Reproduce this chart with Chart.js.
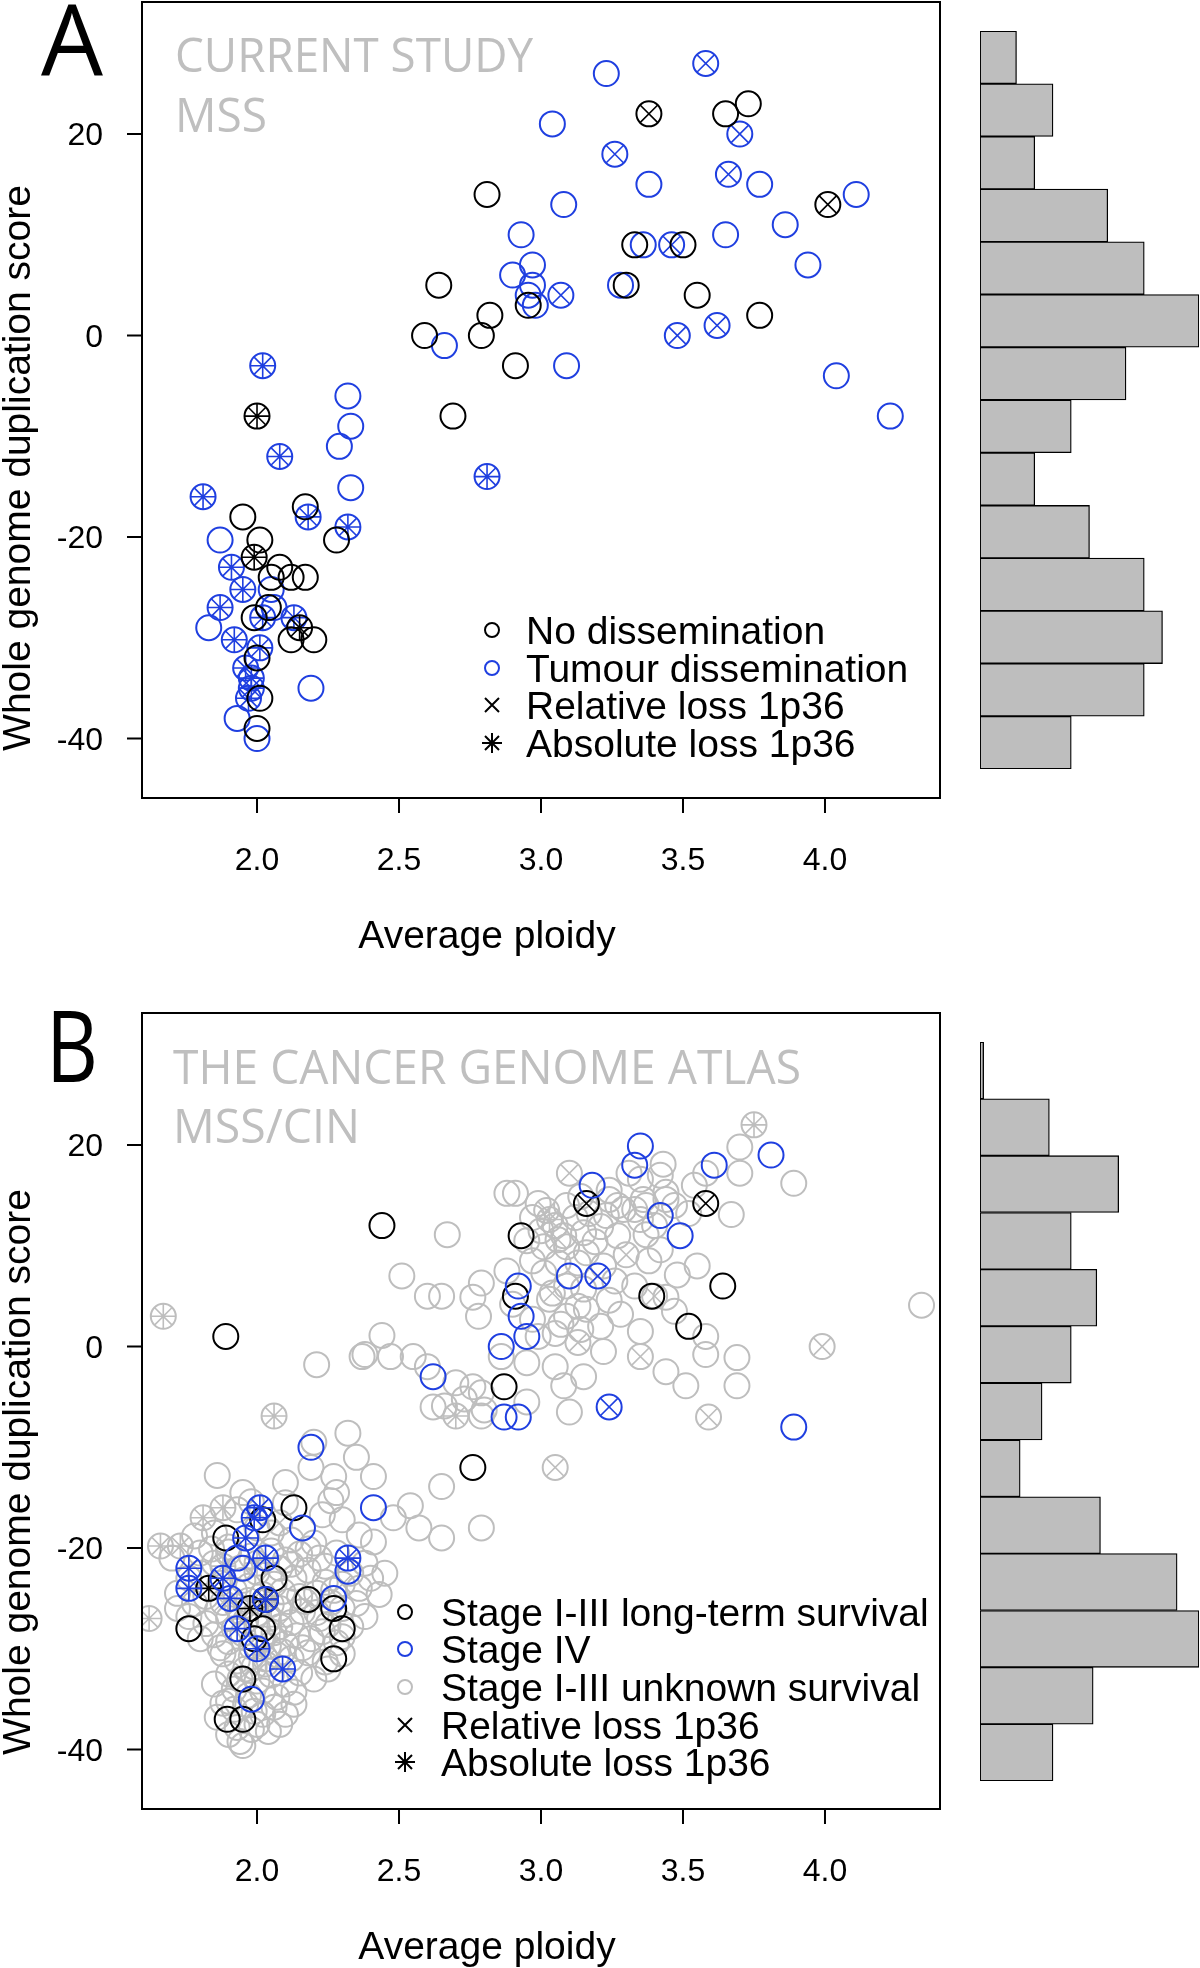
<!DOCTYPE html>
<html>
<head>
<meta charset="utf-8">
<script src="https://cdn.jsdelivr.net/npm/chart.js@4.4.1/dist/chart.umd.min.js"></script>
<style>
body{margin:0;background:#fff;}
#page{position:relative;width:1200px;height:1968px;overflow:hidden;background:#fff;}
canvas{position:absolute;}
</style>
</head>
<body>
<div id="page">
<canvas id="scatterA" width="960" height="1024" style="left:0;top:-40px"></canvas>
<canvas id="histA" width="240" height="984" style="left:960px;top:0"></canvas>
<canvas id="scatterB" width="960" height="984" style="left:0;top:984px"></canvas>
<canvas id="histB" width="240" height="984" style="left:960px;top:984px"></canvas>
</div>
<script>
// each point: [average ploidy, WGD score, 1p36 loss (0 none, 1 relative, 2 absolute)]
var studyNoDissemination = [
  [2.81,14,0],[2.955,3,0],[2.64,5,0],[2.82,2,0],[2.59,0,0],[2.79,0,0],[2.91,-3,0],[2.00,-8,2],
  [2.69,-8,0],[3.38,22,1],[3.65,22,0],[3.73,23,0],[4.01,13,1],[3.33,9,0],[3.50,9,0],[3.30,5,0],
  [3.55,4,0],[3.77,2,0],[2.17,-17,0],[2.28,-20.3,0],[1.95,-18,0],[2.01,-20.3,0],[1.99,-22,2],
  [2.08,-23,0],[2.05,-24,0],[2.12,-24,0],[2.17,-24,0],[2.04,-27,0],[1.99,-28,0],[2.15,-29,2],
  [2.12,-30.2,0],[2.20,-30.2,0],[2.00,-32,0],[2.00,-39,0],[2.01,-36,0]
];
var studyDissemination = [
  [3.04,21,0],[2.93,10,0],[2.97,7,0],[2.90,6,0],[2.97,5,0],[2.955,4,0],[2.98,3,0],[2.66,-1,0],
  [2.02,-3,2],[2.32,-6,0],[2.33,-9,0],[3.23,26,0],[3.58,27,1],[3.70,20,1],[3.26,18,1],[3.38,15,0],
  [3.66,16,1],[3.77,15,0],[4.11,14,0],[3.08,13,0],[3.86,11,0],[3.65,10,0],[3.94,7,0],[3.36,9,0],
  [3.46,9,1],[3.07,4,1],[3.28,5,0],[3.48,0,1],[3.62,1,1],[3.09,-3,0],[4.04,-4,0],[4.23,-8,0],
  [2.81,-14,2],[2.29,-11,0],[2.08,-12,2],[2.33,-15.1,0],[1.81,-16,2],[2.18,-18,2],[2.32,-19,2],
  [1.87,-20.3,0],[1.91,-23,2],[1.95,-25.2,2],[2.05,-25.2,0],[1.87,-27,2],[2.02,-28,2],[2.13,-28,2],
  [1.83,-29,0],[1.92,-30.2,2],[2.01,-31,2],[1.96,-33,2],[1.98,-34,2],[1.98,-35,2],[2.19,-35,0],
  [1.93,-38,0],[2.00,-40,0],[1.97,-36,2],[2.06,-27,0]
];
var tcgaLongTerm = [
  [1.89,1,0],[2.44,12,0],[2.93,11,0],[2.91,5,0],[2.87,-4,0],[3.16,14.2,1],[3.58,14.2,1],[3.39,5,0],
  [3.64,6,0],[3.52,2,0],[2.76,-12,0],[2.13,-16,0],[2.02,-17.2,0],[1.89,-19,0],[2.06,-23,0],
  [1.83,-24,2],[2.03,-25.1,2],[1.975,-26,2],[2.18,-25.1,0],[2.27,-26,0],[2.30,-28,0],[1.76,-28,0],
  [2.02,-28,0],[1.99,-29,0],[2.27,-31,0],[1.95,-33,0],[1.895,-37,0],[1.95,-37,0]
];
var tcgaStageIV = [
  [2.92,6,0],[2.93,3,0],[2.95,1,0],[2.86,0,0],[2.62,-3,0],[2.87,-7,0],[2.92,-7,0],[3.35,19.9,0],
  [3.81,19,0],[3.33,18,0],[3.61,18,0],[3.18,16,0],[3.42,13,0],[3.49,11,0],[3.10,7,0],[3.20,7,1],
  [3.24,-6,1],[3.89,-8,0],[2.19,-10,0],[2.41,-16,0],[2.16,-18,0],[2.01,-16,2],[1.99,-17,2],
  [1.96,-19,2],[2.03,-21,2],[1.93,-21,0],[1.95,-22,0],[1.76,-22,2],[1.76,-24,2],[1.88,-23,2],
  [2.32,-21,2],[2.32,-22.3,0],[1.905,-25,2],[2.03,-25.1,2],[2.27,-25,0],[1.93,-28,2],[2.00,-30,2],
  [2.09,-32,2],[1.98,-35,0]
];
var tcgaUnknown = [
  [3.75,22,2],
  [3.70,19.8,0],[3.43,18.1,0],[3.31,17.2,0],[3.42,17.0,0],[3.58,17.2,0],[3.70,17.2,0],[3.89,16.2,0],
  [3.10,17.2,1],[3.54,16.0,0],[3.35,16.6,0],[2.88,15.2,0],[2.91,15.2,0],[3.44,15.3,0],[3.24,15.5,0],
  [2.67,11.1,0],[3.67,13.1,0],[3.37,11.1,0],[3.27,14.0,0],[3.33,13.6,0],[3.37,14.0,0],[3.44,14.6,0],
  [3.36,14.6,0],[3.24,14.6,0],[3.29,13.6,0],[3.21,11.9,0],[3.23,13.0,0],[3.35,12.6,0],[3.14,14.9,0],
  [3.03,12.6,2],[2.99,14.2,0],[3.02,13.5,1],[3.05,12.0,0],[3.08,11.0,0],[3.00,11.5,0],[3.12,12.8,0],
  [3.09,14.0,0],[3.17,13.2,0],[3.15,11.3,0],[3.06,10.6,1],[2.97,12.8,0],[3.27,11.0,0],[3.40,12.0,0],
  [3.47,14.0,0],[3.52,13.2,0],[2.95,10.5,0],[3.19,10.4,0],
  [3.30,9.1,1],[3.48,7.1,0],[3.01,9.9,0],[3.09,9.9,0],[3.16,9.3,0],[3.06,8.3,0],[3.13,8.3,0],
  [3.01,7.3,0],[3.09,6.0,0],[3.15,5.7,0],[2.51,7.0,0],[2.79,6.3,0],[2.97,8.5,0],[3.22,8.0,0],
  [3.38,8.5,0],[3.26,6.5,0],[3.42,9.6,0],[2.88,7.5,0],[3.55,8.0,0],[3.04,5.3,1],[3.33,6.0,0],
  [2.60,5.0,0],[2.65,5.0,0],[2.76,4.9,0],[2.78,3.0,0],[2.44,1.1,0],[3.40,5.0,1],[3.44,4.9,0],
  [3.58,1.0,0],[3.13,0.4,1],[3.14,1.7,0],[3.21,2.0,0],[3.07,2.2,0],[3.03,4.7,0],[3.13,4.0,0],
  [3.16,3.7,0],[3.05,1.3,0],[3.09,3.0,0],[2.97,2.7,0],[4.34,4.1,0],[1.67,3.0,2],[3.28,3.2,0],
  [3.35,1.5,0],[2.90,4.2,0],[3.24,4.6,0],[2.99,1.0,0],[3.47,3.5,0],
  [3.99,0.0,1],[3.35,-1.0,1],[3.58,-0.8,0],[3.69,-1.1,0],[2.37,-1.0,0],[2.38,-0.8,0],[2.47,-1.0,0],
  [2.55,-1.0,0],[2.21,-1.8,0],[2.86,-1.0,0],[2.76,-4.0,0],[2.79,-4.6,0],[3.08,-3.9,0],[3.51,-3.9,0],
  [3.69,-3.9,0],[2.70,-3.6,0],[3.22,-0.5,0],[3.05,-2.0,0],[3.44,-2.5,0],[2.95,-1.6,0],[3.15,-3.0,0],
  [2.60,-2.0,0],
  [2.73,-5.2,0],[2.66,-5.9,0],[2.70,-6.9,2],[2.79,-6.9,0],[2.06,-6.9,2],[2.32,-8.6,0],[3.59,-7.0,1],
  [2.62,-6.0,0],[2.80,-6.3,0],[2.20,-9.5,0],[2.95,-5.5,0],[3.10,-6.5,0],
  [2.19,-12.0,0],[2.27,-12.9,0],[2.41,-12.9,0],[1.86,-12.8,0],[3.05,-12.0,1],[2.65,-13.9,0],
  [2.10,-13.5,0],[2.28,-14.5,0],[2.35,-11.0,0],[1.95,-14.5,0],
  [2.54,-15.8,0],[2.57,-18.0,0],[2.79,-18.0,0],[2.23,-16.7,0],[2.36,-18.7,0],[1.81,-17.0,2],
  [1.88,-16.0,2],[1.66,-19.8,2],[1.73,-19.8,2],[2.48,-17.0,0],[2.10,-15.5,0],[1.93,-16.2,0],
  [2.05,-18.5,0],[2.20,-19.5,0],[2.30,-17.2,0],[1.85,-18.5,0],[2.08,-17.5,1],[1.98,-15.4,0],
  [2.26,-15.3,0],[2.41,-19.4,0],[1.90,-19.9,0],[2.12,-19.2,0],[2.00,-18.0,0],[1.78,-18.8,0],
  [2.65,-19.0,0],
  [1.70,-21.0,0],[1.80,-20.5,0],[1.85,-21.5,0],[1.90,-20.4,0],[1.98,-20.8,0],[2.05,-20.3,0],
  [2.10,-21.2,0],[2.15,-20.6,0],[2.22,-21.0,0],[2.28,-20.5,0],[2.38,-21.5,0],[2.45,-22.5,0],
  [1.80,-22.5,0],[1.87,-23.5,0],[1.95,-23.2,0],[2.00,-22.4,0],[2.08,-22.0,0],[2.13,-23.0,0],
  [2.18,-22.2,0],[2.24,-23.4,0],[2.30,-23.6,1],[2.36,-24.0,0],[1.72,-24.5,0],[1.82,-24.8,0],
  [1.92,-24.2,0],[1.97,-23.8,0],[2.02,-24.6,0],[2.09,-24.3,0],[2.15,-24.8,0],[2.21,-24.5,0],
  [2.27,-24.2,0],[2.40,-23.0,0],[1.88,-21.8,2],[2.12,-21.6,1],[2.33,-22.5,0],[2.06,-23.6,0],
  [1.76,-23.0,0],[2.18,-20.1,0],[1.94,-22.0,0],[2.24,-21.8,0],[2.00,-21.5,2],[2.43,-24.6,0],
  [1.84,-20.1,0],
  [1.62,-27.0,2],[1.72,-26.0,0],[1.78,-25.5,0],[1.82,-27.5,0],[1.86,-26.2,0],[1.90,-27.0,0],
  [1.93,-25.8,0],[1.96,-27.2,0],[2.00,-26.5,0],[2.04,-27.0,0],[2.08,-26.0,0],[2.12,-27.4,0],
  [2.16,-26.3,0],[2.21,-26.4,0],[2.25,-27.6,0],[2.30,-26.0,0],[2.35,-25.5,0],[1.85,-28.6,0],
  [1.90,-29.3,0],[1.95,-28.5,0],[1.98,-29.8,0],[2.02,-29.0,0],[2.06,-28.4,0],[2.10,-29.5,0],
  [2.14,-28.7,0],[2.19,-29.0,0],[2.23,-28.3,0],[2.28,-29.4,0],[2.33,-27.8,0],[1.88,-25.4,1],
  [2.05,-25.6,2],[2.17,-25.3,1],[1.80,-29.0,0],[2.38,-26.8,0],[2.08,-27.8,2],[1.92,-28.0,0],
  [2.00,-27.8,0],[2.11,-25.3,0],[2.26,-25.4,0],[1.97,-25.2,0],[2.04,-29.7,0],[1.87,-29.9,0],
  [2.16,-29.9,0],[2.22,-27.0,0],[1.94,-26.3,1],[2.02,-25.4,0],[2.30,-28.8,0],[1.76,-26.8,0],
  [1.88,-30.5,0],[1.93,-31.2,0],[1.98,-30.8,0],[2.03,-31.5,0],[2.07,-30.6,0],[2.12,-31.0,0],
  [2.18,-30.4,0],[2.24,-31.3,0],[2.30,-30.5,0],[1.90,-32.5,0],[1.96,-32.0,0],[2.00,-33.2,0],
  [2.05,-32.6,0],[2.10,-33.5,0],[2.15,-32.4,0],[2.20,-33.0,0],[1.92,-34.0,0],[1.97,-34.6,0],
  [2.02,-34.2,0],[2.07,-34.8,0],[2.13,-34.3,0],[1.85,-33.5,0],[2.25,-32.0,0],[1.94,-33.0,1],
  [2.03,-31.0,2],[2.09,-30.3,0],[1.99,-31.8,0],
  [1.94,-39.2,0],[1.90,-38.5,0],[1.98,-38.0,0],[2.02,-36.5,0],[1.92,-36.0,0],[1.96,-35.5,0],
  [2.06,-35.8,0],[1.88,-35.4,0],[2.00,-37.5,0],[1.93,-37.8,0],[2.04,-38.2,0],[1.86,-36.8,0],
  [2.10,-36.5,0],[1.95,-39.6,0],[1.99,-36.2,0],[2.08,-37.5,0],[1.90,-35.2,0],[2.13,-35.5,0]
];
// marginal histograms of the WGD score (breaks from top to bottom)
var histABreaks = [30,25,20,15,10,5,0,-5,-10,-15,-20,-25,-30,-35,-40];
var histACounts = [2,4,3,7,9,12,8,5,3,6,9,10,9,5];
var histBBreaks = [25,20,15,10,5,0,-5,-10,-15,-20,-25,-30,-35,-40];
var histBCounts = [1,19,38,25,32,25,17,11,33,54,60,31,20];
// axes
var ploidyTicks = [2.0,2.5,3.0,3.5,4.0];
var scoreTicks = [-40,-20,0,20];
var ploidyRange = [1.595,4.405];
var scoreRange = [-45.9,33.1];

var BLACK = '#000000';
var BLUE = '#1f3fe0';
var GREY = '#bebebe';
var SANS = '"Liberation Sans", Arial, sans-serif';
var CAL = '"Open Sans", "Noto Sans", sans-serif';

function getxy(points, loss){
  var out = [];
  for (var i = 0; i < points.length; i++) {
    if (loss === undefined || points[i][2] === loss) {
      out.push({x: points[i][0], y: points[i][1]});
    }
  }
  return out;
}
function markset(points, loss, style, color){
  return {
    data: getxy(points, loss),
    pointStyle: style,
    pointRadius: 12.5,
    pointBorderWidth: style === 'circle' ? 2 : 1.6,
    pointBorderColor: color,
    pointBackgroundColor: 'rgba(0,0,0,0)',
    showLine: false,
    clip: 0
  };
}
function groupsets(points, color){
  return [markset(points, 1, 'crossRot', color), markset(points, 2, 'star', color), markset(points, undefined, 'circle', color)];
}

function fittext(ctx, text, x, y, width, size, font, color){
  ctx.font = size + 'px ' + font;
  var w = ctx.measureText(text).width;
  ctx.save();
  ctx.translate(x, y);
  ctx.scale(width / w, 1);
  ctx.fillStyle = color;
  ctx.textAlign = 'left';
  ctx.textBaseline = 'alphabetic';
  ctx.fillText(text, 0, 0);
  ctx.restore();
}
function legendmark(ctx, kind, x, y, color){
  ctx.save();
  ctx.strokeStyle = color;
  ctx.lineWidth = 2;
  ctx.beginPath();
  if (kind === 'circle') {
    ctx.arc(x, y, 7, 0, 2 * Math.PI);
  } else {
    var d = 7;
    ctx.moveTo(x - d, y - d); ctx.lineTo(x + d, y + d);
    ctx.moveTo(x - d, y + d); ctx.lineTo(x + d, y - d);
    if (kind === 'star') {
      ctx.moveTo(x - 10, y); ctx.lineTo(x + 10, y);
      ctx.moveTo(x, y - 10); ctx.lineTo(x, y + 10);
    }
  }
  ctx.stroke();
  ctx.restore();
}

// box, ticks and all texts of one panel; cfg positions are in page pixels
function frameplugin(cfg){
  return {
    id: 'frame' + cfg.letter,
    afterDraw: function(chart){
      var ctx = chart.ctx, a = chart.chartArea, xs = chart.scales.x, ys = chart.scales.y;
      ctx.save();
      ctx.strokeStyle = BLACK;
      ctx.lineWidth = 2;
      ctx.strokeRect(a.left, a.top, a.right - a.left, a.bottom - a.top);
      ctx.beginPath();
      ploidyTicks.forEach(function(v){
        var px = xs.getPixelForValue(v);
        ctx.moveTo(px, a.bottom); ctx.lineTo(px, a.bottom + 15);
      });
      scoreTicks.forEach(function(v){
        var py = ys.getPixelForValue(v);
        ctx.moveTo(a.left, py); ctx.lineTo(a.left - 15, py);
      });
      ctx.stroke();

      ctx.fillStyle = BLACK;
      ctx.font = '32px ' + SANS;
      ctx.textBaseline = 'alphabetic';
      ctx.textAlign = 'center';
      ploidyTicks.forEach(function(v){
        ctx.fillText(v.toFixed(1), xs.getPixelForValue(v), a.bottom + 72);
      });
      ctx.textAlign = 'right';
      scoreTicks.forEach(function(v){
        ctx.fillText(String(v), a.left - 39, ys.getPixelForValue(v) + 11);
      });

      ctx.font = '39px ' + SANS;
      ctx.textAlign = 'center';
      ctx.fillText('Average ploidy', 487, a.bottom + 150);

      ctx.translate(0, -cfg.top);
      ctx.save();
      ctx.translate(30, cfg.yTitleY);
      ctx.rotate(-Math.PI / 2);
      ctx.fillText('Whole genome duplication score', 0, 0);
      ctx.restore();

      fittext(ctx, cfg.letter, cfg.letterX, cfg.letterBase, cfg.letterW, 98, CAL, BLACK);
      cfg.titles.forEach(function(t){
        fittext(ctx, t[0], t[1], t[2], t[3], 47, CAL, '#bfbfbf');
      });

      ctx.font = '39px ' + SANS;
      ctx.textAlign = 'left';
      cfg.legend.forEach(function(item, i){
        legendmark(ctx, item[0], cfg.symX, cfg.rows[i], item[1]);
        ctx.fillStyle = BLACK;
        ctx.fillText(item[2], cfg.textX, cfg.rows[i] + 14);
      });
      ctx.restore();
    }
  };
}

function printscatter(id, datasets, cfg){
  var ctx = document.getElementById(id).getContext('2d');
  return new Chart(ctx, {
    type: 'scatter',
    data: {datasets: datasets},
    options: {
      animation: false,
      responsive: false,
      devicePixelRatio: 1,
      events: [],
      layout: {padding: cfg.padding},
      plugins: {legend: {display: false}, tooltip: {enabled: false}},
      scales: {
        x: {type: 'linear', display: false, min: ploidyRange[0], max: ploidyRange[1]},
        y: {type: 'linear', display: false, min: scoreRange[0], max: scoreRange[1]}
      }
    },
    plugins: [frameplugin(cfg)]
  });
}

function printhist(id, breaks, counts, padding){
  var labels = [];
  for (var i = 0; i < counts.length; i++) {
    labels.push('(' + breaks[i + 1] + ',' + breaks[i] + ']');
  }
  var ctx = document.getElementById(id).getContext('2d');
  return new Chart(ctx, {
    type: 'bar',
    data: {
      labels: labels,
      datasets: [{
        data: counts,
        backgroundColor: '#bebebe',
        borderColor: BLACK,
        borderWidth: 1.3,
        borderSkipped: false,
        barPercentage: 1,
        categoryPercentage: 1
      }]
    },
    options: {
      indexAxis: 'y',
      animation: false,
      responsive: false,
      devicePixelRatio: 1,
      events: [],
      layout: {padding: padding},
      plugins: {legend: {display: false}, tooltip: {enabled: false}},
      scales: {
        x: {display: false, min: 0, max: Math.max.apply(null, counts)},
        y: {display: false}
      }
    }
  });
}

function init(){
  printscatter('scatterA',
    groupsets(studyNoDissemination, BLACK).concat(groupsets(studyDissemination, BLUE)),
    {
      top: -40,
      padding: {left: 142, top: 42, right: 20, bottom: 186},
      letter: 'A', letterX: 41, letterBase: 75, letterW: 62,
      titles: [['CURRENT STUDY', 175, 72, 358], ['MSS', 175, 132, 92]],
      legend: [['circle', BLACK, 'No dissemination'], ['circle', BLUE, 'Tumour dissemination'],
               ['cross', BLACK, 'Relative loss 1p36'], ['star', BLACK, 'Absolute loss 1p36']],
      symX: 492, textX: 526, rows: [630, 668, 705, 743], yTitleY: 468
    });
  printscatter('scatterB',
    groupsets(tcgaStageIV, BLUE).concat(groupsets(tcgaLongTerm, BLACK)).concat(groupsets(tcgaUnknown, GREY)),
    {
      top: 984,
      padding: {left: 142, top: 29, right: 20, bottom: 159},
      letter: 'B', letterX: 46, letterBase: 1082, letterW: 52,
      titles: [['THE CANCER GENOME ATLAS', 173, 1084, 628], ['MSS/CIN', 173, 1143, 187]],
      legend: [['circle', BLACK, 'Stage I-III long-term survival'], ['circle', BLUE, 'Stage IV'],
               ['circle', GREY, 'Stage I-III unknown survival'], ['cross', BLACK, 'Relative loss 1p36'],
               ['star', BLACK, 'Absolute loss 1p36']],
      symX: 405, textX: 441, rows: [1612, 1649, 1687, 1725, 1762], yTitleY: 1472
    });
  printhist('histA', histABreaks, histACounts, {left: 20, top: 31, right: 1, bottom: 215});
  printhist('histB', histBBreaks, histBCounts, {left: 20, top: 58, right: 1, bottom: 187});
}
window.addEventListener('load', init);
</script>
</body>
</html>
